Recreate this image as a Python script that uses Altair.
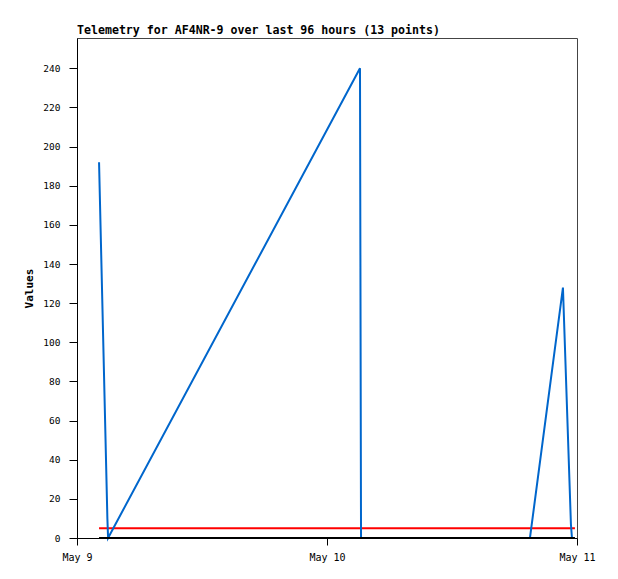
import altair as alt
import pandas as pd

# Blue telemetry series (13 points)
blue_times = [
    "2024-05-09T02:07:00", "2024-05-09T02:55:00", "2024-05-09T02:59:00",
    "2024-05-10T03:10:00", "2024-05-10T03:13:00", "2024-05-10T03:16:00",
    "2024-05-10T09:00:00", "2024-05-10T15:00:00", "2024-05-10T19:29:00",
    "2024-05-10T22:39:00", "2024-05-10T23:25:00", "2024-05-10T23:31:00",
    "2024-05-10T23:48:00",
]
blue_values = [192, 10, 0, 240, 120, 0, 0, 0, 0, 128, 7, 0, 0]

# Reference lines (threshold and zero)
ref_times = ["2024-05-09T02:07:00", "2024-05-10T23:48:00"]
red_values = [5, 5]
black_values = [0, 0]

y_ticks = list(range(0, 241, 20))

FONT = "DejaVu Sans Mono"

blue_df = pd.DataFrame({"t": blue_times, "v": blue_values})
red_df = pd.DataFrame({"t": ref_times, "v": red_values})
black_df = pd.DataFrame({"t": ref_times, "v": black_values})

x_enc = alt.X(
    "t:T",
    title=None,
    scale=alt.Scale(domain=[alt.DateTime(year=2024, month=5, date=9, hours=0),
                            alt.DateTime(year=2024, month=5, date=11, hours=0)]),
    axis=alt.Axis(
        values=[alt.DateTime(year=2024, month=5, date=d, hours=0) for d in (9, 10, 11)],
        format="%b %-d",
        grid=False,
        tickSize=7,
        labelPadding=7,
        labelFlush=False,
        labelFontSize=10,
    ),
)
y_enc = alt.Y(
    "v:Q",
    title="Values",
    scale=alt.Scale(domain=[0, 255.5], nice=False, zero=True),
    axis=alt.Axis(values=y_ticks, grid=False, tickSize=8, labelPadding=9,
                  titlePadding=8, labelFontSize=9.5),
)

red = alt.Chart(red_df).mark_line(color="#ff0000", strokeWidth=2).encode(x=x_enc, y=y_enc)
blue = alt.Chart(blue_df).mark_line(color="#0066cc", strokeWidth=2).encode(x=x_enc, y=y_enc)
black = alt.Chart(black_df).mark_line(color="#000000", strokeWidth=2).encode(x=x_enc, y=y_enc)

chart = (
    alt.layer(red, blue, black)
    .properties(
        width=500,
        height=500,
        autosize=alt.AutoSizeParams(type="none"),
        padding={"left": 69, "top": 30, "right": 33, "bottom": 33},
        title=alt.TitleParams(
            "Telemetry for AF4NR-9 over last 96 hours (13 points)",
            anchor="start",
            frame="group",
            font=FONT,
            fontSize=11.6,
            fontWeight="bold",
            color="#000000",
            offset=1,
        ),
    )
    .configure_view(stroke="#444444", strokeWidth=1)
    .configure_axis(
        domainColor="#000000",
        tickColor="#000000",
        labelColor="#000000",
        titleColor="#000000",
        labelFont=FONT,
        titleFont=FONT,
        titleFontSize=11,
        titleFontWeight="bold",
    )
)

chart.save("out.html", embed_options={"renderer": "svg", "actions": False})
